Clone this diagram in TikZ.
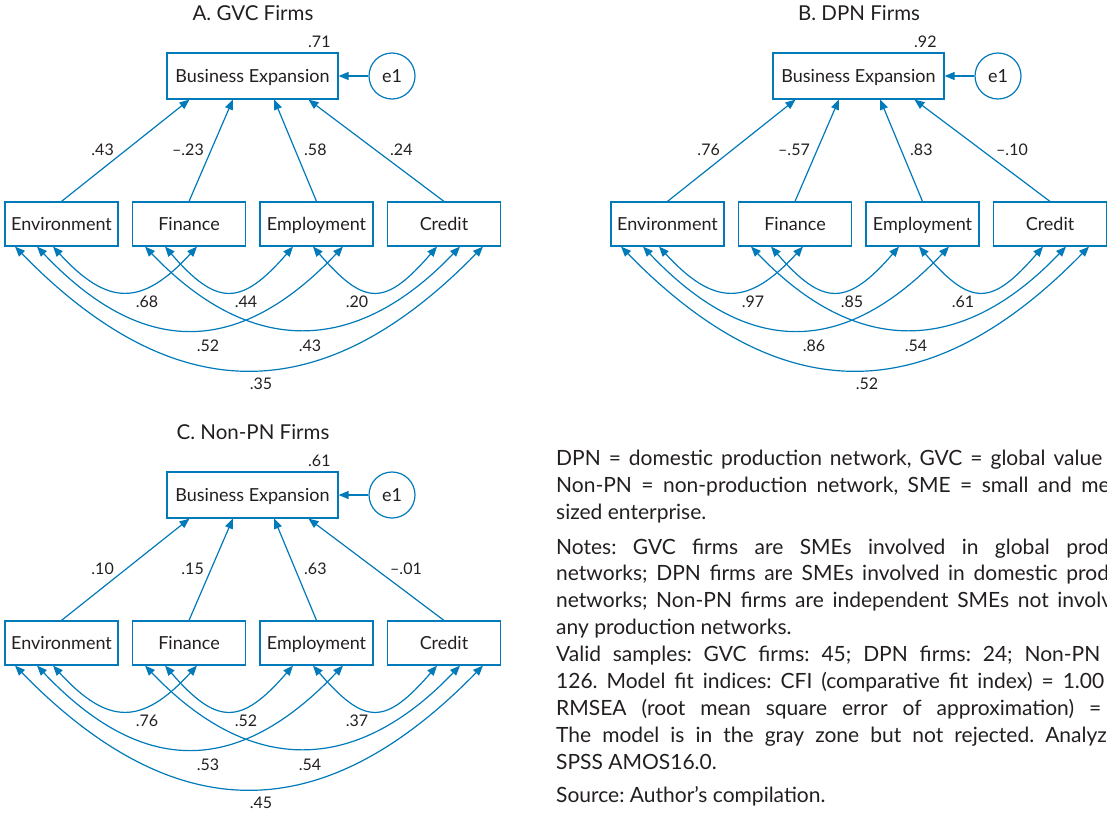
\documentclass[tikz,border=0pt]{standalone}
\usepackage{fontspec}
\setmainfont{Lato}
\usetikzlibrary{arrows.meta,calc}

\definecolor{pathblue}{RGB}{0,122,185}
\definecolor{ink}{RGB}{35,31,32}

\newcommand\labelfont{\fontsize{18}{22}\selectfont}
\newcommand\coeffont{\fontsize{16}{19}\selectfont}
\newcommand\headfont{\fontsize{20.5}{24}\selectfont}
\newcommand\notefont{\fontsize{21}{25}\selectfont\frenchspacing}

% justified lines of the notes, all starting at x = 556
% \noteline: #1 = x where the last word starts, #2 = words before it, #3 = last word
\newcommand\noteline[3]{\makebox[\dimexpr#1pt-556pt\relax][s]{#2 }#3}
% \notelineto: #1 = x where the line ends, #2 = the line
\newcommand\notelineto[2]{\makebox[\dimexpr#1pt-556pt\relax][s]{#2}}

% Regression part of one panel: #1 prefix, #2 heading, #3 R^2, #4-#7 path coefficients
\newcommand\semmodel[7]{%
  \node[heading] (#1title) at (253,13) {#2};
  \node[outcome] (#1be) at (252.5,76) {Business Expansion};
  \node[coef, anchor=west] (#1rsq) at (308,42) {#3};
  \node[err] (#1e) at (392,76) {e1};
  \node[var] (#1env) at (61.5,224) {Environment};
  \node[var] (#1fin) at (189,224) {Finance};
  \node[var] (#1emp) at (316.5,224) {Employment};
  \node[var] (#1cre) at (444,224) {Credit};
  \draw[reg] (#1e) -- (#1be);
  \draw[reg] (#1env.north) -- ($(#1be.south west)!0.134!(#1be.south east)$);
  \draw[reg] (#1fin.north) -- ($(#1be.south west)!0.386!(#1be.south east)$);
  \draw[reg] (#1emp.north) -- ($(#1be.south west)!0.626!(#1be.south east)$);
  \draw[reg] (#1cre.north) -- ($(#1be.south west)!0.825!(#1be.south east)$);
  \node[coef, anchor=east] (#1p1) at (114,150) {#4};
  \node[coef, anchor=east] (#1p2) at (204,150) {#5};
  \node[coef, anchor=west] (#1p3) at (304,150) {#6};
  \node[coef, anchor=west] (#1p4) at (390,150) {#7};
}

% Correlations among the predictors: #1 prefix, #2-#7 coefficients
\newcommand\semcov[7]{%
  \draw[cov] ([xshift=-8.5]#1env.south) .. controls +(55,60) and +(-55,60) .. ([xshift=8]#1fin.south);
  \draw[cov] ([xshift=-24]#1fin.south) .. controls +(52,60) and +(-52,60) .. ([xshift=-23.5]#1emp.south);
  \draw[cov] ([xshift=-3.5]#1emp.south) .. controls +(52,60) and +(-52,60) .. ([xshift=-7]#1cre.south);
  \draw[cov] ([xshift=-24.5]#1env.south) .. controls +(105,111) and +(-105,111) .. ([xshift=26.5]#1emp.south);
  \draw[cov] ([xshift=-44]#1fin.south) .. controls +(105,110) and +(-105,110) .. ([xshift=16]#1cre.south);
  \draw[cov] ([xshift=-46.5]#1env.south) .. controls +(160,164) and +(-160,164) .. ([xshift=39]#1cre.south);
  \node[coef] (#1c1) at (147,302) {#2};
  \node[coef] (#1c2) at (246,302) {#3};
  \node[coef] (#1c3) at (357,302) {#4};
  \node[coef] (#1c4) at (208,346) {#5};
  \node[coef] (#1c5) at (310,346) {#6};
  \node[coef] (#1c6) at (261,384) {#7};
}

\begin{document}
\begin{tikzpicture}[x=1pt, y=-1pt,
  every node/.style={text=ink},
  heading/.style={font=\headfont, inner sep=0pt},
  coef/.style={font=\coeffont, inner sep=0pt},
  var/.style={draw=pathblue, line width=1.2pt, font=\labelfont, minimum width=113pt,
    minimum height=44pt, inner sep=0pt, text height=13pt, text depth=0pt},
  outcome/.style={var, minimum width=171pt, minimum height=46pt},
  err/.style={circle, draw=pathblue, line width=1.2pt, font=\labelfont, minimum size=46pt,
    inner sep=0pt, text height=13pt, text depth=0pt},
  reg/.style={draw=pathblue, line width=1.2pt, -{Triangle[length=10pt, width=8pt]}},
  cov/.style={draw=pathblue, line width=1.2pt,
    {Triangle[length=10pt, width=8pt]}-{Triangle[length=10pt, width=8pt]}},
  note/.style={font=\notefont, anchor=base west, inner sep=0pt},
]
\useasboundingbox (0,0) rectangle (1107,814);
\clip (0,0) rectangle (1107,814);

% A. GVC firms
\begin{scope}
  \semmodel{a}{A. GVC Firms}{.71}{.43}{--.23}{.58}{.24}
  \semcov{a}{.68}{.44}{.20}{.52}{.43}{.35}
\end{scope}

% B. DPN firms
\begin{scope}[shift={(606,0)}]
  \semmodel{b}{B. DPN Firms}{.92}{.76}{--.57}{.83}{--.10}
  \semcov{b}{.97}{.85}{.61}{.86}{.54}{.52}
\end{scope}

% C. Non-PN firms
\begin{scope}[shift={(0,419)}]
  \semmodel{c}{C. Non-PN Firms}{.61}{.10}{.15}{.63}{--.01}
  \semcov{c}{.76}{.52}{.37}{.53}{.54}{.45}
\end{scope}

% Notes below panel B
\node[note] (n1) at (556,465) {\notelineto{1102}{DPN = domestic production network, GVC = global value}};
\node[note] (n2) at (556,492) {\noteline{1081}{Non-PN = non-production network, SME = small and}{medium-}};
\node[note] (n3) at (556,519) {sized enterprise.};
\node[note] (n4) at (556,554) {\noteline{1066}{Notes: GVC firms are SMEs involved in global}{production}};
\node[note] (n5) at (556,580) {\noteline{1066}{networks; DPN firms are SMEs involved in domestic}{production}};
\node[note] (n6) at (556,607) {\noteline{1057}{networks; Non-PN firms are independent SMEs not}{involved}};
\node[note] (n7) at (556,634) {any production networks.};
\node[note] (n8) at (556,661) {\notelineto{1100}{Valid samples: GVC firms: 45; DPN firms: 24; Non-PN}};
\node[note] (n9) at (556,688) {\notelineto{1104}{126. Model fit indices: CFI (comparative fit index) = 1.00}};
\node[note] (n10) at (556,715) {\notelineto{1101}{RMSEA (root mean square error of approximation) =}};
\node[note] (n11) at (556,742) {\noteline{1045}{The model is in the gray zone but not rejected.}{Analyzed}};
\node[note] (n12) at (556,769) {SPSS AMOS16.0.};
\node[note] (n13) at (556,802) {Source: Author’s compilation.};
\end{tikzpicture}
\end{document}
